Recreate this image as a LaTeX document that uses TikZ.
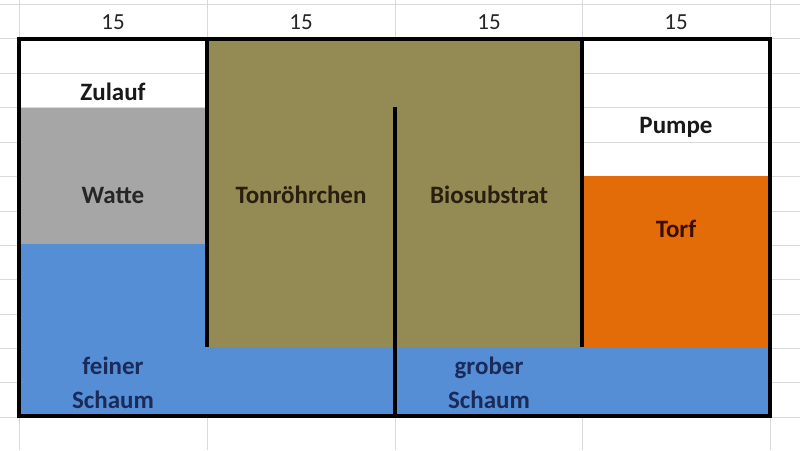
\documentclass[tikz,border=0pt]{standalone}
\usepackage{fontspec}
\setmainfont{Carlito}
\definecolor{gridc}{HTML}{D9D9D9}
\definecolor{wattec}{HTML}{A6A6A6}
\definecolor{olivec}{HTML}{948A54}
\definecolor{orangec}{HTML}{E36C09}
\definecolor{bluec}{HTML}{558ED5}
\definecolor{navyc}{HTML}{1A2B5A}
\definecolor{brownc}{HTML}{2A1F0F}
\definecolor{maroonc}{HTML}{3A0F00}
\definecolor{numc}{HTML}{262626}
\tikzset{
  gridline/.style={draw=gridc, line width=1pt},
  wall/.style={draw=black, line width=3.6pt},
  lbl/.style={font=\fontsize{25}{28}\selectfont\bfseries, inner sep=0pt},
  num/.style={font=\fontsize{23}{26}\selectfont, text=numc, inner sep=0pt}
}
\begin{document}
\begin{tikzpicture}[x=1pt,y=-1pt]
\useasboundingbox (0,0) rectangle (800,450);
\fill[white] (0,0) rectangle (800,450);
% spreadsheet grid
\foreach \y in {4,38.5,73,107.5,142,176.5,211,245,279.5,314,348,382.5,417}
  \draw[gridline] (0,\y) -- (800,\y);
\foreach \x in {19,207,395,582,770}
  \draw[gridline] (\x,0) -- (\x,450);
% fills
\fill[wattec] (19,107.5) rectangle (207,244);
\fill[bluec] (19,244) rectangle (207,416);
\fill[bluec] (19,347) rectangle (770,416);
\fill[olivec] (207,39) rectangle (582,347);
\fill[orangec] (582,176) rectangle (770,347);
% walls
\coordinate (tl) at (19,39);
\coordinate (br) at (770,416);
\coordinate (w1t) at (207,39);
\coordinate (w1b) at (207,347);
\coordinate (w2t) at (395,107);
\coordinate (w2b) at (395,416);
\coordinate (w3t) at (582,39);
\coordinate (w3b) at (582,347);
\draw[wall] (tl) rectangle (br);
\draw[wall] (w1t) -- (w1b);
\draw[wall] (w2t) -- (w2b);
\draw[wall] (w3t) -- (w3b);
% numbers
\node[num] (n1) at (113,22) {15};
\node[num] (n2) at (301,22) {15};
\node[num] (n3) at (489,22) {15};
\node[num] (n4) at (676,22) {15};
% labels
\node[lbl, text=black!90] (zulauf) at (113,92) {Zulauf};
\node[lbl, text=black!85] (watte) at (113,195) {Watte};
\node[lbl, text=brownc] (ton) at (301,195) {Tonröhrchen};
\node[lbl, text=brownc] (bio) at (489,195) {Biosubstrat};
\node[lbl, text=black!90] (pumpe) at (676,127) {Pumpe};
\node[lbl, text=maroonc] (torf) at (676,229) {Torf};
\node[lbl, text=navyc, anchor=base] (fein) at (113,374) {feiner};
\node[lbl, text=navyc, anchor=base] (fschaum) at (113,408) {Schaum};
\node[lbl, text=navyc, anchor=base] (grob) at (489,374) {grober};
\node[lbl, text=navyc, anchor=base] (gschaum) at (489,408) {Schaum};
\end{tikzpicture}
\end{document}
